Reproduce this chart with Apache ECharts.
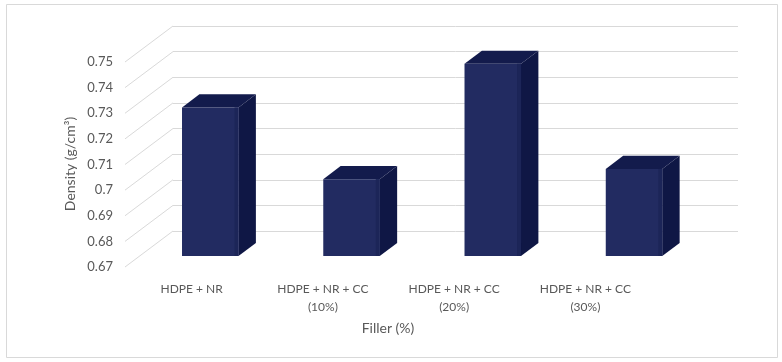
<!DOCTYPE html>
<html>
<head>
<meta charset="utf-8">
<script src="https://cdn.jsdelivr.net/npm/echarts@6/dist/echarts.min.js"></script>
<style>
  html, body { margin: 0; padding: 0; background: #fff; }
  #chart { width: 782px; height: 362px; }
</style>
</head>
<body>
<div id="chart"></div>
<script>
// Density of the blends
const categories = ['HDPE + NR', 'HDPE + NR + CC\n(10%)', 'HDPE + NR + CC\n(20%)', 'HDPE + NR + CC\n(30%)'];
const densities = [0.728, 0.700, 0.745, 0.704];
const yMin = 0.67;
const yMax = 0.75;
const yStep = 0.01;
const yTicks = [0.67, 0.68, 0.69, 0.70, 0.71, 0.72, 0.73, 0.74, 0.75];

// Oblique projection: vector from the back wall to the front plane
const DEPTH = [-48, 36];
const BAR_BACK = 0.333;   // depth fraction of the bar's rear face
const BAR_FRONT = 0.695;  // depth fraction of the bar's front face

const FONT = 'Lato, "Open Sans", sans-serif';
const TXT = '#595959';
const GRID = '#d9d9d9';

const chart = echarts.init(document.getElementById('chart'), null, { renderer: 'canvas' });

function shift(p, t) {
  return [p[0] + DEPTH[0] * t, p[1] + DEPTH[1] * t];
}

function renderBar(params, api) {
  const idx = api.value(0);
  const v = api.value(1);
  const top = api.coord([idx, v]);
  const base = api.coord([idx, yMin]);
  const hw = api.size([1, 0])[0] * 0.2;
  const tl = [top[0] - hw, top[1]], tr = [top[0] + hw, top[1]];
  const bl = [base[0] - hw, base[1]], br = [base[0] + hw, base[1]];
  const fTL = shift(tl, BAR_FRONT), fTR = shift(tr, BAR_FRONT);
  const fBL = shift(bl, BAR_FRONT), fBR = shift(br, BAR_FRONT);
  const bTL = shift(tl, BAR_BACK), bTR = shift(tr, BAR_BACK), bBR = shift(br, BAR_BACK);
  return {
    type: 'group',
    children: [
      { type: 'polygon', shape: { points: [fTR, bTR, bBR, fBR] }, style: { fill: '#0f1745' } },
      { type: 'polygon', shape: { points: [fTL, fTR, bTR, bTL] }, style: { fill: '#131b4c' } },
      { type: 'polygon', shape: { points: [fTL, fTR, fBR, fBL] }, style: { fill: '#222b61' } },
      { type: 'rect', shape: { x: fTR[0] - 4, y: fTR[1], width: 4, height: fBR[1] - fTR[1] },
        style: { fill: '#1c2558' } }
    ]
  };
}

function renderSide(params, api) {
  const v = api.value(0);
  const cs = params.coordSys;
  const p = api.coord([0, v]);
  const back = [cs.x, p[1]];
  const front = shift(back, 1);
  return {
    type: 'line',
    shape: { x1: back[0], y1: back[1], x2: front[0], y2: front[1] },
    style: { stroke: GRID, lineWidth: 1 }
  };
}

chart.setOption({
  backgroundColor: '#fff',
  animation: false,
  grid: [
    // back wall
    { left: 173, right: 44, top: 26, bottom: 131 },
    // front plane (tick labels and categories)
    { left: 126, right: 131, top: 62, bottom: 95 }
  ],
  xAxis: [
    { type: 'category', gridIndex: 0, data: categories, axisLine: { show: false },
      axisTick: { show: false }, axisLabel: { show: false } },
    { type: 'category', gridIndex: 1, data: categories, axisLine: { show: false },
      axisTick: { show: false },
      axisLabel: { color: TXT, fontFamily: FONT, fontSize: 12, lineHeight: 18, margin: 13 } }
  ],
  yAxis: [
    { type: 'value', gridIndex: 0, min: yMin, max: yMax, interval: yStep,
      axisLine: { show: false }, axisTick: { show: false }, axisLabel: { show: false },
      splitLine: { lineStyle: { color: GRID, width: 1 } } },
    { type: 'value', gridIndex: 1, min: yMin, max: yMax, interval: yStep,
      axisLine: { show: false }, axisTick: { show: false }, splitLine: { show: false },
      axisLabel: { color: TXT, fontFamily: FONT, fontSize: 13, margin: 13 } }
  ],
  series: [
    {
      type: 'custom', xAxisIndex: 0, yAxisIndex: 0, silent: true,
      data: yTicks.map(t => [t]),
      renderItem: renderSide, z: 1
    },
    {
      type: 'custom', xAxisIndex: 0, yAxisIndex: 0, silent: true,
      data: densities.map((d, i) => [i, d]),
      renderItem: renderBar, z: 3
    }
  ],
  graphic: [
    { type: 'rect', shape: { x: 6.5, y: 4.5, width: 771, height: 353 },
      style: { fill: 'none', stroke: GRID, lineWidth: 1 }, z: -10 },
    { type: 'text', x: 70, y: 164, rotation: Math.PI / 2,
      style: { text: 'Density (g/cm³)', fill: TXT, font: '14px ' + FONT,
        align: 'center', verticalAlign: 'middle' } },
    { type: 'text', x: 388, y: 328,
      style: { text: 'Filler (%)', fill: TXT, font: '14px ' + FONT,
        align: 'center', verticalAlign: 'middle' } }
  ]
});
</script>
</body>
</html>
